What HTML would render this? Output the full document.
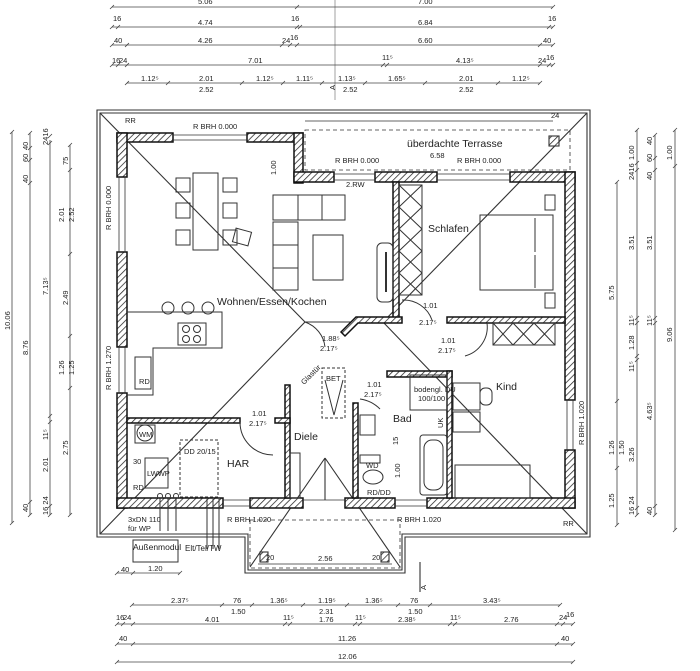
<!DOCTYPE html>
<html><head><meta charset="utf-8"><style>
html,body{margin:0;padding:0;background:#fff;}
svg{display:block;}
text{font-family:"Liberation Sans",sans-serif;fill:#222;}
.d{font-size:7.5px;}
.l{font-size:10.5px;}
</style></head><body>
<svg width="700" height="671" viewBox="0 0 700 671" xmlns="http://www.w3.org/2000/svg">
<defs>
<pattern id="h" width="4.5" height="4.5" patternUnits="userSpaceOnUse" patternTransform="rotate(45)">
<rect width="4.5" height="4.5" fill="#fff"/><line x1="0" y1="0" x2="0" y2="4.5" stroke="#222" stroke-width="1.5"/></pattern>
</defs>
<g stroke="#444" stroke-width="0.8" fill="none">
<line x1="112" y1="7" x2="553" y2="7"/>
<line x1="112" y1="27" x2="553" y2="27"/>
<line x1="112" y1="45" x2="553" y2="45"/>
<line x1="112" y1="65" x2="553" y2="65"/>
<line x1="127" y1="83" x2="540" y2="83"/>
<path d="M110 9l4-4M295 9l4-4M551 9l4-4
M110 29l4-4M116 29l4-4M295 29l4-4M298 29l4-4M547 29l4-4M551 29l4-4
M110 47l4-4M125 47l4-4M280 47l4-4M288 47l4-4M295 47l4-4M538 47l4-4M551 47l4-4
M110 67l4-4M116 67l4-4M125 67l4-4M381 67l4-4M385 67l4-4M538 67l4-4M547 67l4-4M551 67l4-4
M125 85l4-4M166 85l4-4M240 85l4-4M281 85l4-4M320 85l4-4M363 85l4-4M423 85l4-4M496 85l4-4M538 85l4-4"/>
<line x1="335" y1="0" x2="335" y2="100" stroke-width="0.5"/>
<line x1="12" y1="132" x2="12" y2="523"/>
<line x1="30" y1="133" x2="30" y2="515"/>
<line x1="50" y1="140" x2="50" y2="515"/>
<line x1="70" y1="145" x2="70" y2="515"/>
<path d="M10 134l4-4M10 525l4-4M28 135l4-4M28 150l4-4M28 162l4-4M28 185l4-4M28 504l4-4M28 517l4-4
M48 138l4-4M48 145l4-4M48 418l4-4M48 424l4-4M48 508l4-4M48 517l4-4
M68 147l4-4M68 172l4-4M68 256l4-4M68 338l4-4M68 390l4-4M68 517l4-4"/>
<line x1="617" y1="182" x2="617" y2="525"/>
<line x1="637" y1="130" x2="637" y2="515"/>
<line x1="655" y1="135" x2="655" y2="515"/>
<line x1="675" y1="130" x2="675" y2="530"/>
<path d="M615 184l4-4M615 403l4-4M615 470l4-4M615 527l4-4
M635 132l4-4M635 165l4-4M635 172l4-4M635 320l4-4M635 325l4-4M635 358l4-4M635 362l4-4M635 510l4-4M635 517l4-4
M653 137l4-4M653 160l4-4M653 172l4-4M653 320l4-4M653 325l4-4M653 508l4-4M653 517l4-4
M673 132l4-4M673 168l4-4M673 532l4-4"/>
<line x1="117" y1="573" x2="180" y2="573"/>
<path d="M115 575l4-4M131 575l4-4M178 575l4-4"/>
<line x1="132" y1="605" x2="560" y2="605"/>
<path d="M130 607l4-4M220 607l4-4M250 607l4-4M301 607l4-4M345 607l4-4M396 607l4-4M428 607l4-4M558 607l4-4"/>
<line x1="117" y1="624" x2="573" y2="624"/>
<path d="M115 626l4-4M121 626l4-4M131 626l4-4M283 626l4-4M288 626l4-4M353 626l4-4M358 626l4-4M448 626l4-4M453 626l4-4M555 626l4-4M561 626l4-4M571 626l4-4"/>
<line x1="117" y1="644" x2="573" y2="644"/>
<path d="M115 646l4-4M131 646l4-4M555 646l4-4M571 646l4-4"/>
<line x1="117" y1="662" x2="573" y2="662"/>
<path d="M115 664l4-4M571 664l4-4"/>
<line x1="420" y1="562" x2="420" y2="592" stroke-width="1.2"/>
</g>

<g stroke="#333" fill="none" stroke-width="1.1">
<polygon points="97,110 590,110 590,537 405,537 405,573 245,573 245,537 97,537"/>
<polygon points="100,113 587,113 587,534 402,534 402,570 248,570 248,534 100,534"/>
<line x1="100" y1="113" x2="305" y2="322"/>
<line x1="587" y1="113" x2="383" y2="322"/>
<line x1="305" y1="322" x2="383" y2="322"/>
<line x1="100" y1="534" x2="305" y2="322"/>
<line x1="587" y1="534" x2="383" y2="322"/>
<line x1="250" y1="567" x2="325" y2="458"/>
<line x1="400" y1="567" x2="325" y2="458"/>
<line x1="325" y1="458" x2="325" y2="500"/>
<rect x="250" y="520" width="150" height="48" stroke-dasharray="4,3" stroke-width="0.8"/>
<rect x="305" y="130" width="265" height="40" stroke-dasharray="4,3" stroke-width="0.8"/>
<line x1="305" y1="121" x2="553" y2="121" stroke-width="0.7"/>
<line x1="258" y1="564" x2="392" y2="564" stroke-width="0.7"/>
<rect x="549" y="136" width="10" height="10" fill="url(#h)"/>
<rect x="260" y="552" width="8" height="10" fill="url(#h)"/>
<rect x="381" y="552" width="8" height="10" fill="url(#h)"/>
</g>

<g stroke="#111" stroke-width="1.5" fill="url(#h)">
<rect x="117" y="133" width="56" height="9"/>
<rect x="247" y="133" width="56" height="9"/>
<rect x="294" y="133" width="9" height="50"/>
<rect x="294" y="172" width="40" height="10"/>
<rect x="375" y="172" width="62" height="10"/>
<rect x="510" y="172" width="65" height="10"/>
<rect x="565" y="172" width="10" height="228"/>
<rect x="565" y="450" width="10" height="58"/>
<rect x="117" y="133" width="10" height="44"/>
<rect x="117" y="252" width="10" height="95"/>
<rect x="117" y="393" width="10" height="115"/>
<rect x="117" y="498" width="106" height="10"/>
<rect x="250" y="498" width="53" height="10"/>
<rect x="345" y="498" width="50" height="10"/>
<rect x="427" y="498" width="148" height="10"/>
<rect x="393" y="182" width="6" height="140"/>
<polygon points="356,317 402,317 402,323 358,323 345,336 341,332"/>
<rect x="447" y="317" width="118" height="6"/>
<rect x="387" y="371" width="65" height="6"/>
<rect x="447" y="371" width="5" height="127"/>
<rect x="353" y="403" width="5" height="95"/>
<rect x="285" y="385" width="5" height="113"/>
<rect x="127" y="418" width="113" height="5"/>
<rect x="275" y="418" width="15" height="5"/>
</g>
<g stroke="#333" stroke-width="0.8" fill="none">
<path d="M173 135h74M173 140h74M334 174h41M334 180h41M437 174h73M437 180h73M119 177v75M125 177v75M119 347v46M125 347v46M567 400v50M573 400v50M223 500h27M223 506h27M395 500h32M395 506h32M303 500h42"/>
</g>
<g stroke="#333" stroke-width="1" fill="none">
<rect x="193" y="173" width="25" height="77"/>
<rect x="176" y="178" width="14" height="14"/><rect x="176" y="203" width="14" height="15"/><rect x="176" y="230" width="14" height="15"/>
<rect x="223" y="178" width="14" height="14"/><rect x="223" y="203" width="14" height="15"/><rect x="223" y="230" width="14" height="15"/>
<rect x="234" y="230" width="16" height="14" transform="rotate(15 242 237)"/>
<rect x="273" y="195" width="72" height="25"/><line x1="298" y1="195" x2="298" y2="220"/><line x1="322" y1="195" x2="322" y2="220"/>
<rect x="273" y="222" width="25" height="68"/><line x1="273" y1="245" x2="298" y2="245"/><line x1="273" y1="268" x2="298" y2="268"/>
<rect x="313" y="235" width="30" height="45"/>
<rect x="377" y="243" width="16" height="59" rx="5"/><line x1="386" y1="252" x2="386" y2="292" stroke-width="2"/>
<rect x="399" y="185" width="23" height="110"/>
<path d="M399 185l23 22M422 185l-23 22M399 207l23 22M422 207l-23 22M399 229l23 22M422 229l-23 22M399 251l23 22M422 251l-23 22M399 273l23 22M422 273l-23 22"/>
<rect x="480" y="215" width="73" height="75"/><line x1="535" y1="218" x2="535" y2="252"/><line x1="535" y1="255" x2="535" y2="288"/>
<rect x="545" y="195" width="10" height="15"/><rect x="545" y="293" width="10" height="15"/>
<rect x="493" y="323" width="62" height="22"/>
<path d="M493 323l20 22M513 323l-20 22M513 323l21 22M534 323l-21 22M534 323l21 22M555 323l-21 22"/>
<rect x="455" y="465" width="75" height="33"/>
<rect x="453" y="383" width="27" height="27"/><rect x="480" y="388" width="12" height="17" rx="5"/>
<rect x="453" y="412" width="27" height="20"/>
<rect x="420" y="435" width="27" height="60" rx="3"/><rect x="424" y="440" width="19" height="50" rx="8"/>
<rect x="410" y="375" width="37" height="35"/>
<rect x="322" y="368" width="23" height="50" stroke-dasharray="3,2"/>
<path d="M325 380l9 35l9-35"/>
<rect x="360" y="415" width="15" height="20"/><rect x="360" y="455" width="20" height="8"/>
<ellipse cx="373" cy="477" rx="10" ry="7"/>
<rect x="290" y="453" width="10" height="45"/>
<path d="M127 312h95v36h-69v47h-26"/>
<circle cx="168" cy="308" r="6"/><circle cx="188" cy="308" r="6"/><circle cx="208" cy="308" r="6"/>
<rect x="178" y="323" width="28" height="22"/>
<circle cx="186" cy="329" r="3.5"/><circle cx="197" cy="329" r="3.5"/><circle cx="186" cy="339" r="3.5"/><circle cx="197" cy="339" r="3.5"/>
<rect x="135" y="357" width="16" height="32"/>
<circle cx="145" cy="433" r="8"/><rect x="135" y="425" width="20" height="18"/>
<rect x="145" y="458" width="23" height="30"/>
<rect x="180" y="440" width="38" height="57" stroke-dasharray="3,2"/>
<circle cx="160" cy="496" r="2.5"/><circle cx="168" cy="496" r="2.5"/><circle cx="176" cy="496" r="2.5"/>
<path d="M160 499v32M168 499v32M176 499v32M207 499v50M213 499v50M219 499v50"/>
<rect x="133" y="540" width="45" height="22"/>
<path d="M402 300a30 30 0 0 1 30 20"/>
<path d="M487 323a30 30 0 0 1 -22 33"/>
<path d="M305 322a30 30 0 0 1 20 25"/>
<path d="M380 409a35 35 0 0 0 -20 -10"/>
<path d="M240 422a33 33 0 0 0 33 33"/>
</g>
<g class="l">
<text x="217" y="305">Wohnen/Essen/Kochen</text>
<text x="428" y="232">Schlafen</text>
<text x="496" y="390">Kind</text>
<text x="393" y="422">Bad</text>
<text x="294" y="440">Diele</text>
<text x="227" y="467">HAR</text>
<text x="407" y="147">überdachte Terrasse</text>
<text x="133" y="550" font-size="8.5">Außenmodul</text>
<text x="185" y="551" font-size="8">Elt/Tel/TW</text>
</g>
<g class="d">
<text x="193" y="129">R BRH 0.000</text>
<text x="335" y="163">R BRH 0.000</text>
<text x="457" y="163">R BRH 0.000</text>
<text x="125" y="123">RR</text><text x="563" y="526">RR</text>
<text x="346" y="187">2.RW</text>
<text x="227" y="522">R BRH 1.020</text><text x="397" y="522">R BRH 1.020</text>
<text x="128" y="522">3xDN 110</text><text x="128" y="531">für WP</text>
<text x="423" y="308">1.01</text><text x="419" y="325">2.17⁵</text>
<text x="441" y="343">1.01</text><text x="438" y="353">2.17⁵</text>
<text x="322" y="341">1.88⁵</text><text x="320" y="351">2.17⁵</text>
<text x="367" y="387">1.01</text><text x="364" y="397">2.17⁵</text>
<text x="252" y="416">1.01</text><text x="249" y="426">2.17⁵</text>
<text x="414" y="392">bodengl. DU</text><text x="418" y="401">100/100</text>
<text x="326" y="381">BET</text>
<text x="139" y="437">WM</text>
<text x="133" y="464">30</text><text x="147" y="476">LWWP</text><text x="133" y="490">RD</text><text x="139" y="384">RD</text>
<text x="184" y="454">DD 20/15</text>
<text x="366" y="468">WD</text><text x="367" y="495">RD/DD</text>
<text x="266" y="560">20</text><text x="372" y="560">20</text><text x="318" y="561">2.56</text>
<text x="430" y="158">6.58</text><text x="551" y="118">24</text>
<text x="121" y="572">40</text><text x="148" y="571">1.20</text>
<text x="198" y="4">5.06</text><text x="418" y="4">7.00</text>
<text x="113" y="21">16</text><text x="198" y="25">4.74</text><text x="291" y="21">16</text><text x="418" y="25">6.84</text><text x="548" y="21">16</text>
<text x="114" y="43">40</text><text x="198" y="43">4.26</text><text x="282" y="43">24</text><text x="290" y="40">16</text><text x="418" y="43">6.60</text><text x="543" y="43">40</text>
<text x="112" y="63">16</text><text x="119" y="63">24</text><text x="248" y="63">7.01</text><text x="382" y="60">11⁵</text><text x="456" y="63">4.13⁵</text><text x="538" y="63">24</text><text x="546" y="60">16</text>
<text x="141" y="81">1.12⁵</text><text x="199" y="81">2.01</text><text x="256" y="81">1.12⁵</text><text x="296" y="81">1.11⁵</text><text x="338" y="81">1.13⁵</text><text x="388" y="81">1.65⁵</text><text x="459" y="81">2.01</text><text x="512" y="81">1.12⁵</text>
<text x="199" y="92">2.52</text><text x="343" y="92">2.52</text><text x="459" y="92">2.52</text>
<text x="171" y="603">2.37⁵</text><text x="233" y="603">76</text><text x="270" y="603">1.36⁵</text><text x="318" y="603">1.19⁵</text><text x="365" y="603">1.36⁵</text><text x="410" y="603">76</text><text x="483" y="603">3.43⁵</text>
<text x="231" y="614">1.50</text><text x="319" y="614">2.31</text><text x="408" y="614">1.50</text>
<text x="116" y="620">16</text><text x="123" y="620">24</text><text x="205" y="622">4.01</text><text x="283" y="620">11⁵</text><text x="319" y="622">1.76</text><text x="355" y="620">11⁵</text><text x="398" y="622">2.38⁵</text><text x="450" y="620">11⁵</text><text x="504" y="622">2.76</text><text x="559" y="620">24</text><text x="566" y="617">16</text>
<text x="119" y="641">40</text><text x="338" y="641">11.26</text><text x="561" y="641">40</text>
<text x="338" y="659">12.06</text>
</g>
<g class="d">
<text transform="translate(111,230) rotate(-90)">R BRH 0.000</text>
<text transform="translate(111,390) rotate(-90)">R BRH 1.270</text>
<text transform="translate(584,445) rotate(-90)">R BRH 1.020</text>
<text transform="translate(276,175) rotate(-90)">1.00</text>
<text transform="translate(304,385) rotate(-45)">Glastür</text>
<text transform="translate(443,428) rotate(-90)">UK</text>
<text transform="translate(398,445) rotate(-90)">15</text>
<text transform="translate(400,478) rotate(-90)">1.00</text>
<text transform="translate(335,90) rotate(-90)">A</text>
<text transform="translate(426,590) rotate(-90)">A</text>
<text transform="translate(10,330) rotate(-90)">10.06</text>
<text transform="translate(28,355) rotate(-90)">8.76</text>
<text transform="translate(28,150) rotate(-90)">40</text>
<text transform="translate(28,162) rotate(-90)">60</text>
<text transform="translate(28,183) rotate(-90)">40</text>
<text transform="translate(28,512) rotate(-90)">40</text>
<text transform="translate(48,295) rotate(-90)">7.13⁵</text>
<text transform="translate(48,440) rotate(-90)">11⁵</text>
<text transform="translate(48,472) rotate(-90)">2.01</text>
<text transform="translate(48,515) rotate(-90)">16 24</text>
<text transform="translate(48,145) rotate(-90)">2416</text>
<text transform="translate(68,165) rotate(-90)">75</text>
<text transform="translate(64,222) rotate(-90)">2.01</text>
<text transform="translate(74,222) rotate(-90)">2.52</text>
<text transform="translate(68,305) rotate(-90)">2.49</text>
<text transform="translate(64,375) rotate(-90)">1.26</text>
<text transform="translate(74,375) rotate(-90)">1.25</text>
<text transform="translate(68,455) rotate(-90)">2.75</text>
<text transform="translate(614,300) rotate(-90)">5.75</text>
<text transform="translate(614,455) rotate(-90)">1.26</text>
<text transform="translate(624,455) rotate(-90)">1.50</text>
<text transform="translate(614,508) rotate(-90)">1.25</text>
<text transform="translate(634,160) rotate(-90)">1.00</text>
<text transform="translate(634,180) rotate(-90)">2416</text>
<text transform="translate(634,250) rotate(-90)">3.51</text>
<text transform="translate(634,326) rotate(-90)">11⁵</text>
<text transform="translate(634,350) rotate(-90)">1.28</text>
<text transform="translate(634,372) rotate(-90)">11⁵</text>
<text transform="translate(634,462) rotate(-90)">3.26</text>
<text transform="translate(634,515) rotate(-90)">16 24</text>
<text transform="translate(652,145) rotate(-90)">40</text>
<text transform="translate(652,162) rotate(-90)">60</text>
<text transform="translate(652,180) rotate(-90)">40</text>
<text transform="translate(652,250) rotate(-90)">3.51</text>
<text transform="translate(652,326) rotate(-90)">11⁵</text>
<text transform="translate(652,420) rotate(-90)">4.63⁵</text>
<text transform="translate(652,515) rotate(-90)">40</text>
<text transform="translate(672,160) rotate(-90)">1.00</text>
<text transform="translate(672,342) rotate(-90)">9.06</text>
</g>
</svg>
</body></html>
